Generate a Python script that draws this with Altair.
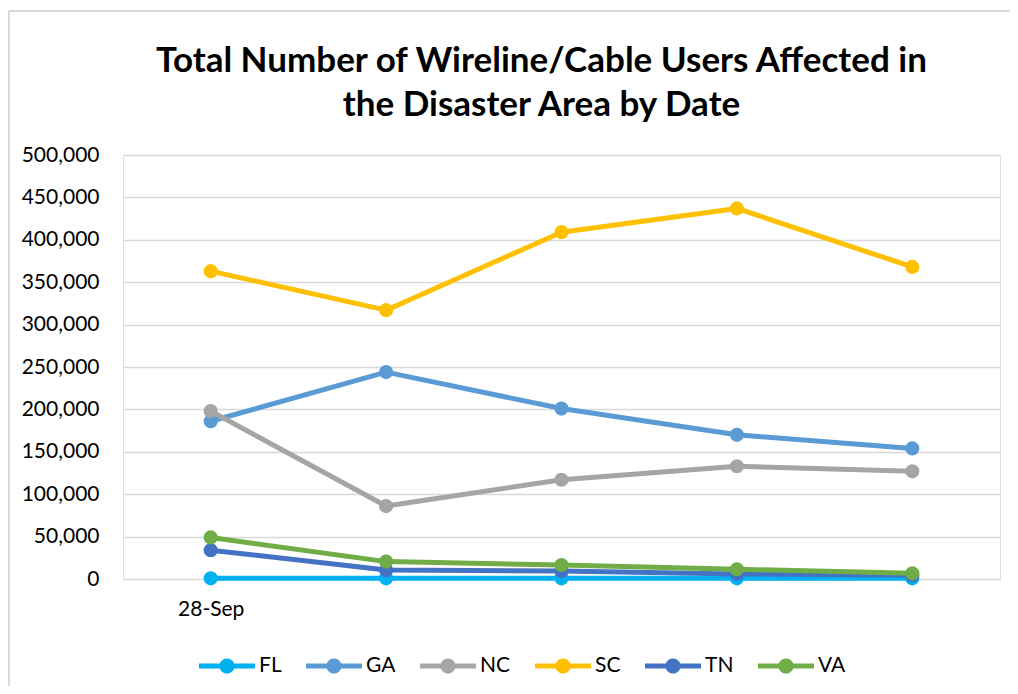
import altair as alt
import pandas as pd

dates = ["28-Sep", "29-Sep", "30-Sep", "1-Oct", "2-Oct"]
states = ["FL", "GA", "NC", "SC", "TN", "VA"]
colors = ["#00B0F0", "#5B9BD5", "#A5A5A5", "#FFC000", "#4472C4", "#70AD47"]

FL = [800, 800, 800, 800, 800]
GA = [186000, 244000, 201000, 170000, 154000]
NC = [198000, 86000, 117000, 133000, 127000]
SC = [363000, 317000, 409000, 437000, 368000]
TN = [34000, 10500, 9500, 6000, 4500]
VA = [49000, 20500, 16500, 11500, 6700]

series = {"FL": FL, "GA": GA, "NC": NC, "SC": SC, "TN": TN, "VA": VA}
rows = []
for s in states:
    for d, v in zip(dates, series[s]):
        rows.append({"date": d, "state": s, "users": v})
df = pd.DataFrame(rows)

FONT = "Lato"

x_enc = alt.X(
    "date:N",
    sort=dates,
    title=None,
    scale=alt.Scale(paddingInner=0, paddingOuter=0),
    axis=alt.Axis(
        labelExpr="datum.value == '28-Sep' ? datum.label : ''",
        labelAngle=0,
        labelFontSize=21,
        labelFont=FONT,
        labelColor="#000000",
        labelPadding=19,
        ticks=False,
        domain=False,
        grid=False,
    ),
)
y_enc = alt.Y(
    "users:Q",
    title=None,
    scale=alt.Scale(domain=[0, 500000], nice=False),
    axis=alt.Axis(
        values=list(range(0, 500001, 50000)),
        format=",d",
        labelFontSize=21,
        labelFont=FONT,
        labelColor="#000000",
        labelPadding=24,
        ticks=False,
        domain=False,
        gridColor="#D9D9D9",
        gridWidth=1.5,
    ),
)

legend_symbol = (
    "M-1,-0.09H1V0.09H-1Z "
    "M-0.27,0A0.27,0.27 0 1,1 0.27,0A0.27,0.27 0 1,1 -0.27,0Z"
)

color_scale = alt.Scale(domain=states, range=colors)
legend = alt.Legend(
    title=None,
    orient="none",
    legendX=76,
    legendY=483,
    direction="horizontal",
    columns=6,
    symbolType=legend_symbol,
    symbolSize=3136,
    symbolStrokeWidth=0,
    symbolOpacity=1,
    labelFont=FONT,
    labelFontSize=21,
    labelColor="#000000",
    labelOffset=4,
    columnPadding=24,
)
color_enc = alt.Color("state:N", scale=color_scale, legend=legend)

layers = []
for s in states:
    base = alt.Chart(df).transform_filter(alt.datum.state == s)
    line = base.mark_line(strokeWidth=5, strokeCap="round", strokeJoin="round").encode(
        x=x_enc, y=y_enc, color=color_enc
    )
    pts = base.mark_point(filled=True, size=200, opacity=1, shape="circle").encode(
        x=x_enc, y=y_enc, color=color_enc
    )
    layers += [line, pts]

border_top = alt.Chart(pd.DataFrame({"a": [0]})).mark_rule(color="#D9D9D9", strokeWidth=2).encode(
    x=alt.value(-114), x2=alt.value(900), y=alt.value(-144)
)
border_left = alt.Chart(pd.DataFrame({"a": [0]})).mark_rule(color="#D9D9D9", strokeWidth=2).encode(
    x=alt.value(-114), y=alt.value(-144), y2=alt.value(560)
)

chart = alt.layer(border_top, border_left, *layers).properties(
    width=877,
    height=424,
    autosize=alt.AutoSizeParams(type="none"),
    padding={"left": 115, "top": 147, "right": 10, "bottom": 107},
    title=alt.Title(
        text=["Total Number of Wireline/Cable Users Affected in", "the Disaster Area by Date"],
        font=FONT,
        fontSize=35,
        fontWeight="bold",
        color="#000000",
        lineHeight=44,
        anchor="middle",
        dx=-20,
        offset=-113,
    ),
).configure_view(stroke="#D9D9D9", strokeWidth=1.5).configure(background="white")

chart.save("out.html", embed_options={"renderer": "svg", "actions": False})
